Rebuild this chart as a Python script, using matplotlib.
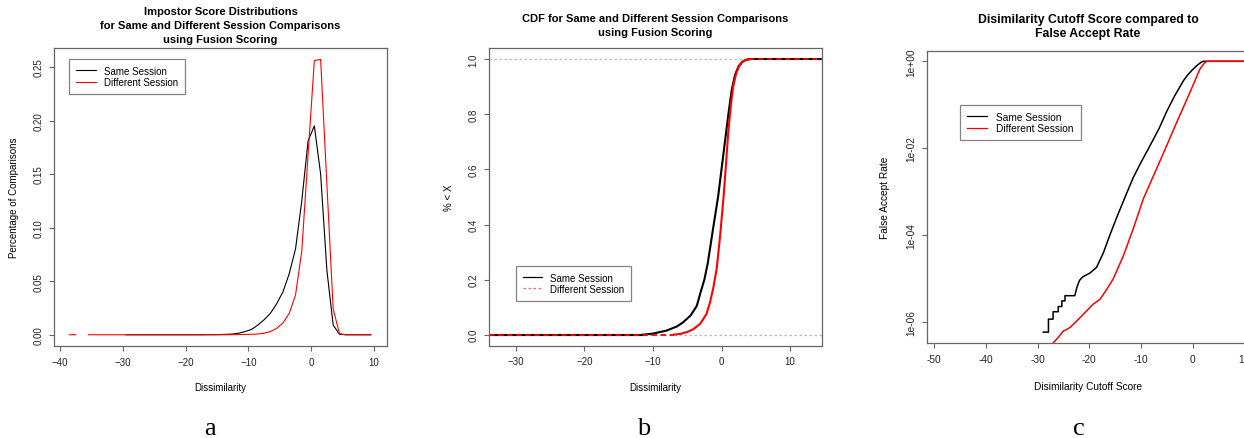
import matplotlib
matplotlib.use('Agg')
import matplotlib.pyplot as plt
import numpy as np
from matplotlib.lines import Line2D

plt.rcParams['font.family'] = ['Liberation Sans', 'DejaVu Sans']

W, H, DPI = 1244, 439, 100

# ---------------- Panel a: score distributions (frequency polygons) ----------------
bin_centers = [-38.5, -37.5, -36.5, -35.5, -34.5, -33.5, -32.5, -31.5, -30.5, -29.5,
               -28.5, -27.5, -26.5, -25.5, -24.5, -23.5, -22.5, -21.5, -20.5, -19.5,
               -18.5, -17.5, -16.5, -15.5, -14.5, -13.5, -12.5, -11.5, -10.5, -9.5,
               -8.5, -7.5, -6.5, -5.5, -4.5, -3.5, -2.5, -1.5, -0.5, 0.5,
               1.5, 2.5, 3.5, 4.5, 5.5, 6.5, 7.5, 8.5, 9.5]
nan = float('nan')
same_pct = ([nan] * 9 +
            [0.0] * 13 + [0.0001, 0.0001, 0.0002, 0.0004] +
            [0.0007, 0.0015, 0.003, 0.005, 0.009, 0.014, 0.02, 0.029, 0.04, 0.057,
             0.08, 0.125, 0.181, 0.195, 0.15, 0.06, 0.009, 0.0005] +
            [0.0] * 5)
diff_pct = ([0.0, 0.0, nan] +
            [0.0] * 23 + [0.0001, 0.0002, 0.0003, 0.0004] +
            [0.0007, 0.0015, 0.003, 0.006, 0.011, 0.02, 0.037, 0.078, 0.168, 0.256,
             0.257, 0.14, 0.024, 0.001] +
            [0.0] * 5)

# ---------------- Panel b: CDF ----------------
same_cdf_x = [-11.5, -10.0, -8.0, -6.5, -5.6, -4.5, -3.6, -3.1, -2.5, -2.0, -1.2,
              -0.5, 0.0, 0.5, 1.0, 1.5, 2.0, 2.5, 3.0, 3.5, 4.0]
same_cdf_y = [0.0, 0.004, 0.015, 0.03, 0.045, 0.07, 0.105, 0.15, 0.2, 0.26, 0.39,
              0.5, 0.6, 0.7, 0.8, 0.89, 0.945, 0.975, 0.99, 0.997, 1.0]
diff_cdf_x = [-7.0, -6.0, -5.0, -4.1, -3.1, -2.2, -1.7, -1.2, -0.7, -0.2, 0.3,
              0.6, 1.0, 1.4, 1.7, 2.1, 2.5, 3.0, 3.5, 4.0]
diff_cdf_y = [0.0, 0.003, 0.01, 0.02, 0.04, 0.075, 0.115, 0.17, 0.24, 0.36, 0.5,
              0.6, 0.74, 0.84, 0.9, 0.945, 0.972, 0.99, 0.998, 1.0]

# ---------------- Panel c: false accept rate (log10) ----------------
same_far_x = [-28.9, -27.9, -27.9, -27.0, -27.0, -26.0, -26.0, -25.3, -25.3, -24.7,
              -24.7, -22.8, -22.4, -21.9, -21.3, -19.9, -18.6, -17.3, -16.0, -14.7,
              -12.8, -11.5, -10.0, -8.5, -6.5, -5.0, -3.5, -1.8, -1.0, 0.0,
              0.45, 1.0, 1.6, 2.06, 12.0]
same_far_log = [-6.24, -6.24, -5.94, -5.94, -5.77, -5.77, -5.65, -5.65, -5.52, -5.52,
                -5.40, -5.40, -5.21, -5.05, -4.97, -4.88, -4.75, -4.42, -4.0, -3.6,
                -3.05, -2.68, -2.33, -2.0, -1.55, -1.15, -0.8, -0.45, -0.32, -0.19,
                -0.14, -0.08, -0.025, 0.0, 0.0]
diff_far_x = [-27.4, -27.0, -26.0, -25.0, -24.7, -23.7, -22.4, -21.1, -19.2, -17.9,
              -16.6, -15.4, -13.4, -11.5, -9.55, -6.0, -3.1, -0.5, 1.4, 2.2, 2.7, 12.0]
diff_far_log = [-6.6, -6.49, -6.36, -6.21, -6.2, -6.13, -5.98, -5.82, -5.59, -5.48,
                -5.25, -5.02, -4.48, -3.86, -3.17, -2.21, -1.41, -0.71, -0.18, -0.05,
                0.0, 0.0]

legend_labels = ['Same Session', 'Different Session']

# ------------------------------------------------------------------
fig = plt.figure(figsize=(W / DPI, H / DPI), dpi=DPI)


def axes_px(l, t, r, b):
    return fig.add_axes([l / W, 1 - b / H, (r - l) / W, (b - t) / H])


def ftext(x, y, s, **kw):
    fig.text(x / W, 1 - y / H, s, **kw)


SPINE = '#666666'
FS = 7
FSC = 7.3


def style(ax, fs=FS):
    for sp in ax.spines.values():
        sp.set_color(SPINE)
        sp.set_linewidth(0.9)
    ax.tick_params(direction='out', length=3.6, width=0.8, color=SPINE,
                   labelsize=fs, labelcolor='#222222', pad=4)
    for lab in ax.get_yticklabels():
        lab.set_rotation(90)
        lab.set_va('center')


def add_legend(ax, handles, anchor, fs):
    leg = ax.legend(handles=handles, labels=legend_labels, loc='upper left',
                    bbox_to_anchor=anchor, frameon=True, fancybox=False,
                    edgecolor=SPINE, fontsize=fs, handlelength=2.0,
                    handletextpad=0.85, labelspacing=0.13, borderpad=0.7,
                    borderaxespad=0)
    leg.get_frame().set_linewidth(0.9)
    return leg


# ---- panel a
axA = axes_px(54, 49, 387, 347)
axA.plot(bin_centers, same_pct, color='black', lw=0.8)
axA.plot(bin_centers, diff_pct, color='red', lw=0.8)
axA.set_xlim(-40.96, 12.07)
axA.set_ylim(-0.0105, 0.2677)
axA.set_xticks([-40, -30, -20, -10, 0, 10])
axA.set_yticks([0.0, 0.05, 0.10, 0.15, 0.20, 0.25])
axA.set_yticklabels(['0.00', '0.05', '0.10', '0.15', '0.20', '0.25'])
style(axA)
add_legend(axA, [Line2D([], [], color='black', lw=0.8),
                 Line2D([], [], color='red', lw=0.8)],
           ((69.3 - 54) / 333, (347 - 60) / 298), FS)

ftext(220.5, 11.7, 'Impostor Score Distributions', ha='center', va='center',
      fontsize=8, fontweight='bold')
ftext(220.5, 26, 'for Same and Different Session Comparisons', ha='center',
      va='center', fontsize=8, fontweight='bold')
ftext(220.5, 40, 'using Fusion Scoring', ha='center', va='center', fontsize=8,
      fontweight='bold')
ftext(220.5, 387.7, 'Dissimilarity', ha='center', va='center', fontsize=FS)
ftext(14, 198, 'Percentage of Comparisons', ha='center', va='center',
      fontsize=FS, rotation=90)

# ---- panel b
axB = axes_px(489, 49, 822, 346.7)
xlB = (-33.94, 14.67)
axB.axhline(0, color='#bbbbbb', lw=0.9, ls=(0, (2, 2)))
axB.axhline(1, color='#bbbbbb', lw=0.9, ls=(0, (2, 2)))
axB.plot([xlB[0], same_cdf_x[0]], [same_cdf_y[0]] * 2, color='black', lw=1.5)
axB.plot(same_cdf_x, same_cdf_y, color='black', lw=1.5)
axB.plot([same_cdf_x[-1], xlB[1]], [same_cdf_y[-1]] * 2, color='black', lw=1.5)
axB.plot([xlB[0], diff_cdf_x[0]], [diff_cdf_y[0]] * 2, color='red', lw=1.3,
         ls=(0, (3, 2)))
axB.plot(diff_cdf_x, diff_cdf_y, color='red', lw=1.5)
axB.plot([diff_cdf_x[-1], xlB[1]], [diff_cdf_y[-1]] * 2, color='red', lw=1.3,
         ls=(0, (3, 2)))
axB.set_xlim(*xlB)
axB.set_ylim(-0.04, 1.041)
axB.set_xticks([-30, -20, -10, 0, 10])
axB.set_yticks([0.0, 0.2, 0.4, 0.6, 0.8, 1.0])
style(axB)
add_legend(axB, [Line2D([], [], color='black', lw=0.9),
                 Line2D([], [], color='#ff6666', lw=0.9, ls=(0, (2, 2)))],
           ((515.7 - 489) / 333, (346.7 - 266.7) / 297.7), FS)
ftext(655.5, 19, 'CDF for Same and Different Session Comparisons', ha='center',
      va='center', fontsize=8, fontweight='bold')
ftext(655.5, 33.3, 'using Fusion Scoring', ha='center', va='center', fontsize=8,
      fontweight='bold')
ftext(655.5, 387.7, 'Dissimilarity', ha='center', va='center', fontsize=FS)
ftext(449, 198, '% < X', ha='center', va='center', fontsize=FS, rotation=90)

# ---- panel c
axC = axes_px(926.7, 51.7, 1249, 344)
axC.plot(same_far_x, np.power(10.0, same_far_log), color='black', lw=1.1)
axC.plot(diff_far_x, np.power(10.0, diff_far_log), color='red', lw=1.1)
axC.set_yscale('log')
axC.set_xlim(-51.45, 10.9)
axC.set_ylim(10 ** -6.49, 10 ** 0.244)
axC.set_xticks([-50, -40, -30, -20, -10, 0, 10])
axC.set_xticklabels(['-50', '-40', '-30', '-20', '-10', '0', '10'])
axC.set_yticks([1e0, 1e-2, 1e-4, 1e-6])
axC.set_yticklabels(['1e+00', '1e-02', '1e-04', '1e-06'])
axC.minorticks_off()
style(axC, FSC)
add_legend(axC, [Line2D([], [], color='black', lw=0.9),
                 Line2D([], [], color='red', lw=0.9)],
           ((960 - 926.7) / 322.3, (344 - 105.7) / 292.3), FSC)
ftext(1088, 20, 'Disimilarity Cutoff Score compared to', ha='center',
      va='center', fontsize=8.8, fontweight='bold')
ftext(1088, 34.3, 'False Accept Rate', ha='center', va='center', fontsize=8.8,
      fontweight='bold')
ftext(1088, 386.7, 'Disimilarity Cutoff Score', ha='center', va='center',
      fontsize=FSC)
ftext(885, 198, 'False Accept Rate', ha='center', va='center', fontsize=FSC,
      rotation=90)

# ---- panel letters
for xp, s in [(209.5, 'a'), (644, 'b'), (1079, 'c')]:
    ftext(xp, 435, s, ha='center', va='baseline', fontsize=19,
          family=['Liberation Serif', 'DejaVu Serif'])

fig.savefig('out.png', dpi=DPI)
